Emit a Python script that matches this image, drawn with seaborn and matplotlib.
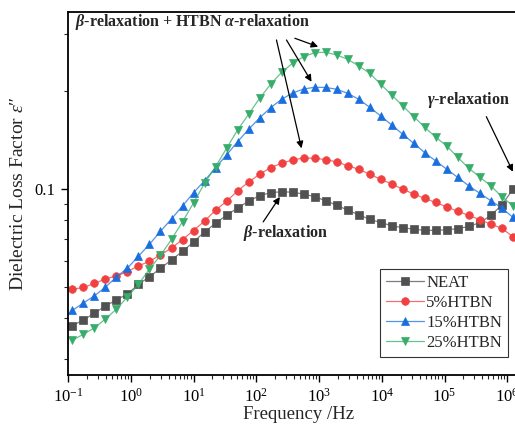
import numpy as np
import pandas as pd
import matplotlib
matplotlib.use("Agg")
import matplotlib.pyplot as plt
import matplotlib.ticker as mticker
import seaborn as sns

# ---------------- data ----------------
freq = [0.1175, 0.1759, 0.2636, 0.395, 0.5916, 0.8863, 1.327, 1.989, 2.979, 4.462,
        6.683, 10.01, 15.0, 22.47, 33.65, 50.4, 75.5, 113.1, 169.4, 253.8,
        380.2, 569.5, 853.1, 1278, 1914, 2867, 4295, 6433, 9638, 14437,
        21627, 32396, 48529, 72694, 108893, 163117, 244343, 366014, 548277, 821297,
        1230269]

neat = [0.0380, 0.0395, 0.0415, 0.0436, 0.0456, 0.0475, 0.0509, 0.0537, 0.0570, 0.0605,
        0.0643, 0.0687, 0.0738, 0.0784, 0.0830, 0.0874, 0.0917, 0.0954, 0.0974, 0.0981,
        0.0977, 0.0965, 0.0947, 0.0920, 0.0891, 0.0861, 0.0833, 0.0807, 0.0788, 0.0771,
        0.0760, 0.0752, 0.0746, 0.0746, 0.0749, 0.0755, 0.0767, 0.0788, 0.0829, 0.0893,
        0.0998]

htbn5 = [0.0491, 0.0498, 0.0512, 0.0529, 0.0540, 0.0557, 0.0580, 0.0599, 0.0627, 0.0658,
         0.0699, 0.0745, 0.0797, 0.0860, 0.0917, 0.0986, 0.1051, 0.1110, 0.1163, 0.1200,
         0.1228, 0.1246, 0.1243, 0.1232, 0.1211, 0.1179, 0.1150, 0.1110, 0.1071, 0.1036,
         0.0998, 0.0965, 0.0935, 0.0909, 0.0880, 0.0854, 0.0829, 0.0805, 0.0779, 0.0757,
         0.0713]

htbn15 = [0.0423, 0.0446, 0.0469, 0.0499, 0.0536, 0.0571, 0.0621, 0.0676, 0.0741, 0.0809,
          0.0887, 0.0974, 0.1060, 0.1163, 0.1273, 0.1398, 0.1526, 0.1654, 0.1779, 0.1888,
          0.1974, 0.2031, 0.2056, 0.2053, 0.2027, 0.1970, 0.1888, 0.1784, 0.1677, 0.1573,
          0.1473, 0.1382, 0.1293, 0.1219, 0.1150, 0.1085, 0.1022, 0.0970, 0.0920, 0.0874,
          0.0818]

htbn25 = [0.0343, 0.0357, 0.0374, 0.0398, 0.0427, 0.0465, 0.0509, 0.0567, 0.0625, 0.0700,
          0.0793, 0.0906, 0.1041, 0.1171, 0.1334, 0.1519, 0.1698, 0.1901, 0.2100, 0.2286,
          0.2437, 0.2553, 0.2627, 0.2634, 0.2584, 0.2507, 0.2391, 0.2270, 0.2100, 0.1946,
          0.1801, 0.1669, 0.1548, 0.1442, 0.1356, 0.1250, 0.1158, 0.1087, 0.1022, 0.0947,
          0.0887]

series_names = ["NEAT", "5%HTBN", "15%HTBN", "25%HTBN"]
series_vals = [neat, htbn5, htbn15, htbn25]
colors = ["#515151", "#F14040", "#1A6FDF", "#37AD6B"]
markers = ["s", "o", "^", "v"]

x_ticks = [0.1, 1, 10, 100, 1e3, 1e4, 1e5, 1e6]
y_ticks = [0.1]
y_tick_labels = ["0.1"]

# ---------------- style ----------------
sns.set_theme(style="ticks")
plt.rcParams["font.family"] = ["Liberation Serif", "DejaVu Serif"]
plt.rcParams["mathtext.fontset"] = "custom"
plt.rcParams["mathtext.rm"] = "Liberation Serif"
plt.rcParams["mathtext.it"] = "Liberation Serif:italic"
plt.rcParams["mathtext.bf"] = "Liberation Serif:bold"
plt.rcParams["mathtext.bfit"] = "Liberation Serif:bold:italic"

rows = []
for name, vals in zip(series_names, series_vals):
    for f, v in zip(freq, vals):
        rows.append({"freq": f, "val": v, "sample": name})
df = pd.DataFrame(rows)

fig = plt.figure(figsize=(5.15, 4.25), dpi=100)
ax = fig.add_axes([68 / 515, 50 / 425, 502 / 515, 363 / 425])

sns.lineplot(data=df, x="freq", y="val", hue="sample", style="sample",
             hue_order=series_names, style_order=series_names,
             palette=colors, markers=dict(zip(series_names, markers)),
             dashes=False, markersize=5.5, linewidth=0.9, ax=ax, legend=False,
             estimator=None, sort=True)

handles = []
for line, c in zip(ax.get_lines(), colors):
    rgb = matplotlib.colors.to_rgb(c)
    line.set_color((*rgb, 0.75))
    line.set_markerfacecolor(c)
    line.set_markeredgecolor(c)
    line.set_markeredgewidth(0.5)
    handles.append(line)

ax.set_xscale("log")
ax.set_yscale("log")
ax.set_xlim(0.1, 1e7)
ax.set_ylim(0.02677, 0.3504)

ax.set_xticks(x_ticks)
ax.xaxis.set_minor_locator(mticker.LogLocator(base=10, subs=np.arange(2, 10)))
ax.xaxis.set_minor_formatter(mticker.NullFormatter())
ax.set_yticks(y_ticks)
ax.set_yticklabels(y_tick_labels)
ax.yaxis.set_minor_locator(mticker.LogLocator(base=10, subs=np.arange(2, 10)))
ax.yaxis.set_minor_formatter(mticker.NullFormatter())

ax.tick_params(axis="both", which="major", direction="out", length=5, width=1.0,
               labelsize=12, colors="black", top=False, right=False, pad=4)
ax.tick_params(axis="both", which="minor", direction="out", length=3, width=0.8,
               top=False, right=False)

for sp in ["left", "bottom", "top"]:
    ax.spines[sp].set_linewidth(1.3)
    ax.spines[sp].set_color("black")
ax.spines["right"].set_visible(False)

ax.set_xlabel("Frequency /Hz", fontsize=13.5)
ax.xaxis.set_label_coords(0.46, -0.085)
ax.set_ylabel(r"Dielectric Loss Factor $\varepsilon$″", fontsize=14)
ax.yaxis.set_label_coords(-0.082, 0.5)

leg = ax.legend(handles, series_names, loc="lower left", bbox_to_anchor=(0.621, 0.05),
                borderaxespad=0, frameon=True, fancybox=False, fontsize=12,
                handlelength=2.3, handletextpad=0.15, labelspacing=0.25,
                borderpad=0.35, edgecolor="black")
leg.get_frame().set_linewidth(0.8)

# ---------------- annotations ----------------
ax.text(0.014, 0.972, r"$\mathbfit{\beta}$-relaxation + HTBN $\mathbfit{\alpha}$-relaxation",
        transform=ax.transAxes, fontsize=11.5, fontweight="bold", va="center", ha="left")
ax.text(0.716, 0.758, r"$\mathbfit{\gamma}$-relaxation", transform=ax.transAxes,
        fontsize=11.5, fontweight="bold", va="center", ha="left")
ax.text(0.348, 0.391, r"$\mathbfit{\beta}$-relaxation", transform=ax.transAxes,
        fontsize=11.5, fontweight="bold", va="center", ha="left")

arrow_kw = dict(arrowstyle="-|>", color="black", lw=0.9, mutation_scale=10,
                shrinkA=0, shrinkB=0)
ax.annotate("", xy=(526, 0.1334), xytext=(210, 0.2874), arrowprops=arrow_kw)
ax.annotate("", xy=(760, 0.2138), xytext=(303, 0.2874), arrowprops=arrow_kw)
ax.annotate("", xy=(968, 0.274), xytext=(412, 0.2909), arrowprops=arrow_kw)
ax.annotate("", xy=(1.23e6, 0.113), xytext=(4.64e5, 0.1669), arrowprops=arrow_kw)
ax.annotate("", xy=(238, 0.0945), xytext=(129, 0.0792), arrowprops=arrow_kw)

fig.savefig("out.png", dpi=100)
